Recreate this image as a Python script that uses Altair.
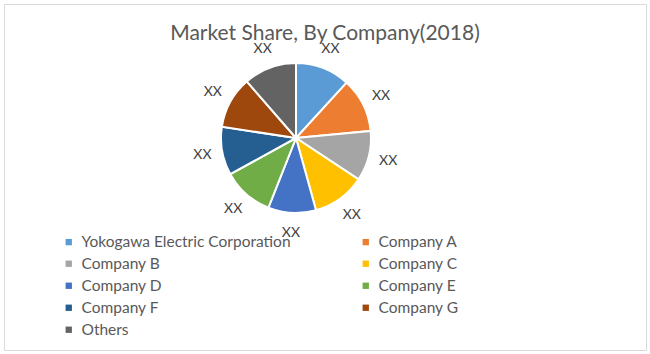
import altair as alt
import pandas as pd

companies = ["Yokogawa Electric Corporation", "Company A", "Company B", "Company C",
             "Company D", "Company E", "Company F", "Company G", "Others"]
shares = [11.8, 11.7, 10.8, 11.4, 10.3, 11.0, 10.4, 11.2, 11.4]
labels = ["XX"] * 9
colors = ["#5B9BD5", "#ED7D31", "#A5A5A5", "#FFC000", "#4472C4",
          "#70AD47", "#255E91", "#9E480E", "#636363"]

df = pd.DataFrame({"company": companies, "share": shares, "label": labels,
                   "idx": list(range(len(companies)))})

# legend fills columns first: put left-column entries first
legend_order = [0, 2, 4, 6, 8, 1, 3, 5, 7]
legend_domain = [companies[i] for i in legend_order]
legend_range = [colors[i] for i in legend_order]

FONT = "Lato"
cx, cy = 292, 134

base = alt.Chart(df).encode(
    theta=alt.Theta("share:Q", stack=True),
    order=alt.Order("idx:Q", sort="ascending"),
)

pie = base.mark_arc(outerRadius=75, stroke="white", strokeWidth=2).encode(
    x=alt.value(cx), y=alt.value(cy),
    color=alt.Color("company:N",
                    scale=alt.Scale(domain=legend_domain, range=legend_range),
                    legend=alt.Legend(
                        title=None, orient="none", legendX=57, legendY=230,
                        columns=2, columnPadding=67, rowPadding=5,
                        symbolType="square", symbolSize=40, symbolStrokeWidth=0,
                        labelFont=FONT, labelFontSize=15.5, labelColor="#595959",
                        labelOffset=5, labelLimit=400)),
)

text = base.mark_text(radius=95, font=FONT, fontSize=14, color="#404040",
                      align="center", baseline="middle").encode(
    x=alt.value(cx), y=alt.value(cy),
    text="label:N",
)

chart = (pie + text).properties(
    width=642, height=346,
    padding={"left": 4, "top": 4, "right": 4, "bottom": 4},
    autosize=alt.AutoSizeParams(type="none"),
    title=alt.TitleParams("Market Share, By Company(2018)", font=FONT, fontSize=21,
                          fontWeight="normal", color="#595959", anchor="middle",
                          orient="top", offset=-40),
).configure_view(stroke="#D9D9D9", strokeWidth=1)

chart.save("out.html", embed_options={"renderer": "svg", "actions": False})
